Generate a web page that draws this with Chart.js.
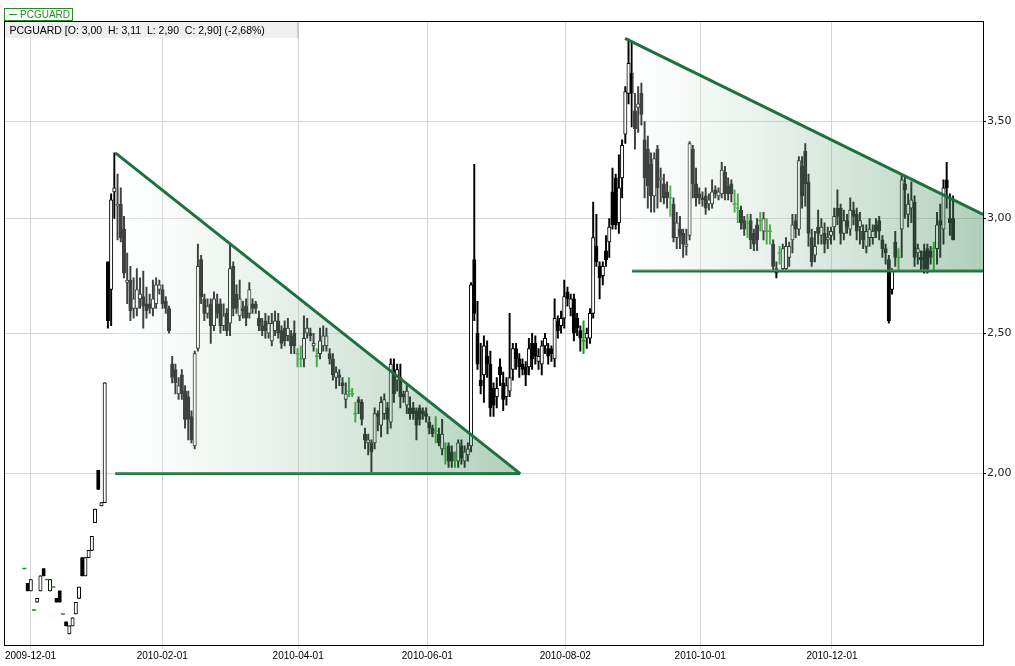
<!DOCTYPE html>
<html>
<head>
<meta charset="utf-8">
<script src="https://cdn.jsdelivr.net/npm/chart.js@4.4.0/dist/chart.umd.min.js"></script>
<style>
  html, body { margin: 0; padding: 0; background: #fff; }
  #wrap { width: 1015px; height: 666px; }
</style>
</head>
<body>
<div id="wrap"><canvas id="pcguard" width="1015" height="666"></canvas></div>
<script>
// daily candles, one per trading day (index 0 = late Nov 2009)
const opens = [
  1.72,1.68,1.66,1.61,1.63,1.66,1.72,1.69,1.66,1.67,
  1.64,1.66,1.60,1.58,1.55,1.57,1.60,1.64,1.75,1.70,
  1.75,1.77,1.85,2.01,1.90,1.91,2.80,2.68,3.13,3.06,
  3.07,2.95,2.71,2.72,2.60,2.60,2.64,2.65,2.62,2.62,
  2.60,2.62,2.68,2.68,2.63,2.60,2.38,2.36,2.27,2.34,
  2.28,2.26,2.19,2.09,2.44,2.81,2.64,2.58,2.62,2.53,
  2.62,2.62,2.53,2.58,2.54,2.78,2.66,2.57,2.60,2.61,
  2.58,2.62,2.62,2.56,2.53,2.55,2.50,2.47,2.51,2.55,
  2.51,2.52,2.49,2.49,2.50,2.42,2.40,2.40,2.50,2.50,
  2.45,2.41,2.42,2.45,2.45,2.42,2.40,2.33,2.34,2.31,
  2.25,2.28,2.27,2.20,2.25,2.24,2.13,2.10,2.10,2.10,
  2.20,2.16,2.20,2.22,2.17,2.35,2.32,2.33,2.27,2.23,
  2.22,2.22,2.21,2.22,2.21,2.20,2.17,2.15,2.14,2.13,
  2.08,2.08,2.09,2.07,2.05,2.04,2.09,2.04,2.06,2.09,
  2.81,2.50,2.32,2.34,2.41,2.38,2.29,2.26,2.37,2.31,
  2.26,2.28,2.36,2.44,2.40,2.38,2.37,2.37,2.46,2.46,
  2.39,2.38,2.45,2.44,2.44,2.40,2.55,2.53,2.56,2.67,
  2.60,2.64,2.56,2.51,2.47,2.48,2.48,2.58,2.87,2.78,
  2.74,2.85,2.89,3.13,3.20,2.98,3.20,3.43,3.66,3.78,
  3.56,3.58,3.66,3.40,3.35,3.27,3.11,3.35,3.19,3.17,
  3.13,3.10,3.07,2.91,2.95,2.93,2.87,2.92,3.35,3.17,
  3.12,3.10,3.11,3.07,3.07,3.14,3.11,3.12,3.23,3.16,
  3.17,3.07,3.05,3.04,2.99,2.98,2.99,2.93,2.97,2.99,
  2.94,2.94,2.94,2.88,2.77,2.84,2.77,2.77,2.82,2.90,
  2.99,2.95,3.26,3.34,3.18,2.91,2.83,2.96,2.92,2.93,
  2.90,2.92,2.96,3.05,3.05,2.93,2.99,2.95,3.04,3.02,
  2.96,2.94,2.87,2.91,2.91,2.97,2.99,2.90,2.86,2.81,
  2.68,2.89,2.82,2.95,3.17,3.02,3.05,3.08,2.84,2.82,
  2.85,2.86,2.85,2.86,2.86,2.99,2.95,3.19,3.00,3.00
];
const highs = [
  1.72,1.68,1.69,1.61,1.64,1.70,1.72,1.69,1.69,1.67,
  1.64,1.66,1.60,1.58,1.57,1.59,1.63,1.67,1.75,1.75,
  1.77,1.81,1.89,2.01,1.91,2.31,2.80,3.12,3.33,3.22,
  3.15,3.01,2.84,2.78,2.73,2.77,2.73,2.76,2.69,2.66,
  2.72,2.73,2.72,2.70,2.65,2.61,2.41,2.38,2.33,2.36,
  2.30,2.28,2.21,2.43,2.88,2.83,2.66,2.64,2.64,2.67,
  2.66,2.64,2.62,2.60,2.88,2.80,2.70,2.72,2.63,2.64,
  2.71,2.64,2.63,2.59,2.56,2.58,2.57,2.58,2.59,2.58,
  2.53,2.55,2.56,2.51,2.55,2.44,2.45,2.57,2.56,2.52,
  2.50,2.44,2.52,2.53,2.52,2.44,2.42,2.37,2.36,2.33,
  2.31,2.33,2.29,2.24,2.26,2.25,2.15,2.13,2.11,2.22,
  2.21,2.26,2.27,2.24,2.40,2.40,2.38,2.38,2.28,2.30,
  2.26,2.24,2.22,2.23,2.22,2.22,2.19,2.16,2.19,2.15,
  2.18,2.10,2.10,2.09,2.07,2.11,2.11,2.09,2.10,2.71,
  3.27,2.63,2.46,2.49,2.47,2.43,2.31,2.33,2.40,2.35,
  2.33,2.58,2.46,2.46,2.42,2.40,2.39,2.48,2.50,2.49,
  2.44,2.47,2.50,2.46,2.45,2.64,2.57,2.59,2.72,2.69,
  2.66,2.66,2.58,2.53,2.55,2.52,2.60,3.08,3.02,2.80,
  2.80,2.92,3.00,3.25,3.22,3.32,3.40,3.70,3.99,3.97,
  3.66,3.70,3.72,3.50,3.42,3.33,3.33,3.37,3.25,3.22,
  3.18,3.16,3.10,3.03,3.01,2.95,2.95,3.39,3.37,3.25,
  3.15,3.13,3.15,3.12,3.19,3.16,3.15,3.28,3.26,3.20,
  3.19,3.14,3.12,3.06,3.01,3.02,3.02,2.95,3.00,3.03,
  3.03,3.00,2.97,2.90,2.80,2.87,2.88,2.91,2.89,3.02,
  3.02,3.31,3.31,3.38,3.22,2.95,2.94,3.04,3.00,2.98,
  2.96,2.96,3.05,3.14,3.07,3.04,3.02,3.10,3.08,3.05,
  3.03,2.97,2.97,3.00,2.97,3.00,3.01,2.92,2.88,2.83,
  2.77,2.94,2.86,3.21,3.21,3.12,3.18,3.11,2.88,2.85,
  2.88,2.88,2.87,2.89,3.03,3.07,3.19,3.28,3.12,3.11
];
const lows = [
  1.72,1.66,1.66,1.61,1.63,1.66,1.70,1.69,1.66,1.67,
  1.63,1.63,1.60,1.57,1.55,1.57,1.60,1.64,1.70,1.70,
  1.75,1.77,1.85,1.95,1.90,1.91,2.52,2.53,3.00,2.90,
  2.89,2.73,2.62,2.55,2.56,2.57,2.60,2.52,2.56,2.58,
  2.57,2.60,2.66,2.60,2.58,2.50,2.31,2.27,2.25,2.25,
  2.15,2.11,2.10,2.08,2.43,2.62,2.55,2.56,2.46,2.51,
  2.56,2.50,2.51,2.49,2.49,2.57,2.58,2.55,2.56,2.53,
  2.56,2.58,2.58,2.51,2.49,2.48,2.48,2.45,2.49,2.48,
  2.44,2.45,2.47,2.42,2.42,2.37,2.37,2.37,2.48,2.47,
  2.43,2.37,2.40,2.43,2.43,2.38,2.32,2.29,2.30,2.27,
  2.22,2.26,2.26,2.17,2.20,2.16,2.08,2.06,2.00,2.08,
  2.14,2.12,2.18,2.13,2.15,2.24,2.28,2.22,2.24,2.20,
  2.18,2.18,2.11,2.16,2.18,2.17,2.13,2.12,2.10,2.09,
  2.06,2.03,2.02,2.02,2.02,2.02,2.03,2.02,2.04,2.07,
  2.55,2.36,2.27,2.24,2.33,2.19,2.19,2.22,2.30,2.21,
  2.23,2.26,2.32,2.36,2.33,2.34,2.30,2.34,2.36,2.38,
  2.36,2.34,2.42,2.38,2.39,2.37,2.48,2.50,2.52,2.61,
  2.57,2.47,2.49,2.43,2.42,2.44,2.46,2.56,2.78,2.64,
  2.70,2.78,2.82,2.95,2.95,2.93,3.10,3.38,3.60,3.47,
  3.35,3.44,3.48,3.10,3.05,3.03,3.03,3.05,3.08,3.07,
  3.05,3.01,2.89,2.86,2.86,2.82,2.83,2.90,3.10,3.06,
  3.07,3.06,3.02,3.04,3.05,3.10,3.09,3.10,3.09,3.09,
  3.08,3.03,2.98,2.95,2.92,2.91,2.86,2.85,2.85,2.94,
  2.90,2.88,2.88,2.76,2.73,2.79,2.76,2.76,2.78,2.84,
  2.91,2.92,3.05,3.06,2.87,2.78,2.80,2.88,2.88,2.84,
  2.86,2.88,2.90,2.97,2.88,2.90,2.93,2.92,2.97,2.90,
  2.88,2.86,2.84,2.87,2.88,2.91,2.90,2.82,2.79,2.54,
  2.66,2.78,2.76,2.82,3.00,2.96,2.98,2.78,2.79,2.76,
  2.75,2.75,2.79,2.76,2.79,2.82,2.88,3.05,2.92,2.90
];
const closes = [
  1.72,1.66,1.69,1.61,1.64,1.70,1.70,1.69,1.69,1.67,
  1.63,1.63,1.60,1.57,1.57,1.59,1.63,1.67,1.70,1.75,
  1.77,1.81,1.89,1.95,1.91,2.31,2.55,3.09,3.15,3.07,
  2.91,2.75,2.72,2.59,2.64,2.68,2.66,2.61,2.59,2.60,
  2.64,2.70,2.70,2.62,2.60,2.51,2.33,2.31,2.30,2.27,
  2.18,2.18,2.11,2.42,2.78,2.65,2.58,2.61,2.53,2.64,
  2.58,2.53,2.57,2.51,2.77,2.60,2.60,2.64,2.59,2.56,
  2.68,2.60,2.60,2.53,2.51,2.51,2.54,2.54,2.55,2.50,
  2.46,2.47,2.52,2.45,2.45,2.42,2.40,2.48,2.52,2.49,
  2.46,2.41,2.47,2.49,2.49,2.40,2.34,2.35,2.33,2.30,
  2.27,2.28,2.27,2.20,2.24,2.18,2.11,2.11,2.07,2.20,
  2.19,2.24,2.25,2.18,2.38,2.27,2.36,2.26,2.26,2.28,
  2.20,2.20,2.16,2.18,2.20,2.19,2.15,2.13,2.14,2.10,
  2.13,2.08,2.04,2.04,2.05,2.10,2.05,2.07,2.08,2.70,
  2.58,2.38,2.30,2.45,2.38,2.22,2.23,2.29,2.34,2.25,
  2.30,2.33,2.44,2.40,2.37,2.36,2.34,2.44,2.40,2.41,
  2.41,2.45,2.48,2.41,2.42,2.56,2.51,2.56,2.65,2.64,
  2.64,2.50,2.52,2.48,2.47,2.50,2.58,2.91,2.80,2.73,
  2.78,2.81,2.96,2.97,2.97,3.15,3.37,3.67,3.84,3.66,
  3.46,3.60,3.54,3.20,3.16,3.11,3.30,3.15,3.20,3.10,
  3.10,3.10,2.91,2.98,2.92,2.88,2.88,3.38,3.17,3.10,
  3.10,3.09,3.05,3.09,3.13,3.12,3.13,3.24,3.12,3.12,
  3.12,3.07,3.05,2.98,2.95,2.98,2.90,2.88,2.90,2.99,
  3.00,2.94,2.94,2.78,2.75,2.84,2.86,2.87,2.87,2.97,
  2.95,3.29,3.11,3.17,2.93,2.80,2.87,2.93,2.96,2.88,
  2.91,2.94,3.01,3.01,2.93,2.99,2.96,3.04,3.01,2.94,
  2.99,2.90,2.94,2.95,2.94,2.94,2.94,2.86,2.84,2.55,
  2.76,2.82,2.82,3.19,3.14,3.07,3.09,2.82,2.86,2.81,
  2.77,2.77,2.82,2.86,2.97,2.97,3.15,3.15,2.98,2.90
];

// date axis: position (candle index) and label
const dateTickPos = [1.9, 42.9, 85.2, 125.4, 168.3, 210.3, 251.3];
const dateTickLabels = ["2009-12-01", "2010-02-01", "2010-04-01", "2010-06-01", "2010-08-02", "2010-10-01", "2010-12-01"];
const priceTicks = [2.0, 2.5, 3.0, 3.5];

// drawn triangles (candle index, price)
const tri1Top = [{ x: 28.3, y: 3.33 }, { x: 154.3, y: 2.0 }];
const tri1Base = [{ x: 28.3, y: 2.0 }, { x: 154.3, y: 2.0 }];
const tri2Top = [{ x: 186.9, y: 3.995 }, { x: 298.3, y: 3.02 }];
const tri2Base = [{ x: 189.1, y: 2.76 }, { x: 298.3, y: 2.76 }];

const fmt = (v) => v.toFixed(2).replace(".", ",");
const DOJI_GREEN = "#1a9a1a";
const LINE_GREEN = "rgb(30,112,62)";

const wickData = [], bodyData = [], dojiData = [], wickColors = [], bodyColors = [];
opens.forEach((o, i) => {
  const c = closes[i];
  const doji = o === c;
  wickData.push({ x: i, y: [lows[i], highs[i]] });
  wickColors.push(doji ? DOJI_GREEN : "#000");
  bodyData.push({ x: i, y: doji ? null : [Math.min(o, c), Math.max(o, c)] });
  bodyColors.push(c > o ? "#fff" : "#000");
  dojiData.push({ x: i, y: doji ? c : null });
});

function triGradient(x0, x1) {
  return (ctx) => {
    const chart = ctx.chart;
    const xs = chart.scales && chart.scales.x;
    if (!chart.chartArea || !xs) return "rgba(64,141,90,0.3)";
    const g = chart.ctx.createLinearGradient(xs.getPixelForValue(x0), 0, xs.getPixelForValue(x1), 0);
    g.addColorStop(0, "rgba(255,255,255,0.25)");
    g.addColorStop(1, "rgba(64,141,90,0.42)");
    return g;
  };
}

const frame = {
  id: "frame",
  afterDraw(chart) {
    const { ctx, chartArea: a } = chart;
    ctx.save();
    // plot border
    ctx.strokeStyle = "#000";
    ctx.lineWidth = 1;
    ctx.strokeRect(Math.round(a.left) - 0.5, Math.round(a.top) - 0.5, Math.round(a.right - a.left) + 1, Math.round(a.bottom - a.top) + 1);

    // quote header strip
    const n = closes.length - 1;
    const chg = ((closes[n] / closes[n - 1] - 1) * 100).toFixed(2).replace(".", ",");
    const header = "PCGUARD [O: " + fmt(opens[n]) + "  H: " + fmt(highs[n]) + "  L: " + fmt(lows[n]) + "  C: " + fmt(closes[n]) + "] (" + chg + "%)";
    ctx.fillStyle = "#efefef";
    ctx.fillRect(a.left, a.top, 292, 16);
    ctx.strokeStyle = "#b0b0b0";
    ctx.beginPath();
    ctx.moveTo(a.left + 292.5, a.top);
    ctx.lineTo(a.left + 292.5, a.top + 16);
    ctx.stroke();
    ctx.fillStyle = "#000";
    ctx.font = "10.5px 'Liberation Sans', Arial, sans-serif";
    ctx.textBaseline = "middle";
    ctx.fillText(header, a.left + 4, a.top + 9);

    // legend box
    ctx.fillStyle = "#fff";
    ctx.fillRect(4, 8, 68, 12);
    ctx.strokeStyle = "#2a8a2a";
    ctx.strokeRect(4.5, 8.5, 68, 12);
    ctx.strokeStyle = DOJI_GREEN;
    ctx.beginPath();
    ctx.moveTo(9, 14.5);
    ctx.lineTo(17, 14.5);
    ctx.stroke();
    ctx.fillStyle = "#1e8c1e";
    ctx.font = "10px 'Liberation Sans', Arial, sans-serif";
    ctx.fillText("PCGUARD", 20, 15);
    ctx.restore();
  }
};

new Chart(document.getElementById("pcguard"), {
  type: "bar",
  data: {
    datasets: [
      {
        type: "line", data: tri1Top, order: 0,
        borderColor: LINE_GREEN, borderWidth: 3, pointRadius: 0,
        fill: "+1", backgroundColor: triGradient(28.3, 154.3)
      },
      {
        type: "line", data: tri1Base, order: 0,
        borderColor: LINE_GREEN, borderWidth: 3, pointRadius: 0, fill: false
      },
      {
        type: "line", data: tri2Top, order: 0,
        borderColor: LINE_GREEN, borderWidth: 3, pointRadius: 0,
        fill: "+1", backgroundColor: triGradient(186.9, 298.3)
      },
      {
        type: "line", data: tri2Base, order: 0,
        borderColor: LINE_GREEN, borderWidth: 3, pointRadius: 0, fill: false
      },
      {
        type: "line", data: dojiData, order: 2, showLine: false,
        pointStyle: "line", pointRadius: 2, pointBorderWidth: 1.4,
        pointBorderColor: DOJI_GREEN, pointBackgroundColor: DOJI_GREEN
      },
      {
        data: bodyData, order: 3, grouped: false, barThickness: 3.4,
        backgroundColor: bodyColors, borderColor: "#000", borderWidth: 1, borderSkipped: false
      },
      {
        data: wickData, order: 4, grouped: false, barThickness: 1.3,
        backgroundColor: wickColors, borderWidth: 0
      }
    ]
  },
  options: {
    responsive: false,
    animation: false,
    devicePixelRatio: 1,
    layout: { padding: { left: 5, top: 22, right: 0, bottom: 0 } },
    plugins: { legend: { display: false }, tooltip: { enabled: false } },
    scales: {
      x: {
        type: "linear",
        min: -5.9,
        max: 298.3,
        offset: false,
        afterBuildTicks: (s) => { s.ticks = dateTickPos.map((v) => ({ value: v })); },
        afterFit: (s) => { s.height = 21; },
        ticks: {
          autoSkip: false, maxRotation: 0, padding: 1, color: "#000",
          font: { family: "'Liberation Sans', Arial, sans-serif", size: 10 },
          callback: (v, i) => dateTickLabels[i]
        },
        grid: { offset: false, color: "#d6d6d6", tickLength: 4, tickColor: "#d6d6d6" },
        border: { color: "#000", width: 1 }
      },
      y: {
        type: "logarithmic",
        position: "right",
        min: 1.523,
        max: 4.100,
        afterBuildTicks: (s) => { s.ticks = priceTicks.map((v) => ({ value: v })); },
        afterFit: (s) => { s.width = 32; },
        ticks: {
          padding: 1, color: "#222",
          font: { family: "'DejaVu Sans', sans-serif", size: 11 },
          callback: (v) => fmt(v)
        },
        grid: { color: "#d6d6d6", tickLength: 3, tickColor: "#000" },
        border: { color: "#000", width: 1 }
      }
    }
  },
  plugins: [frame]
});
</script>
</body>
</html>
